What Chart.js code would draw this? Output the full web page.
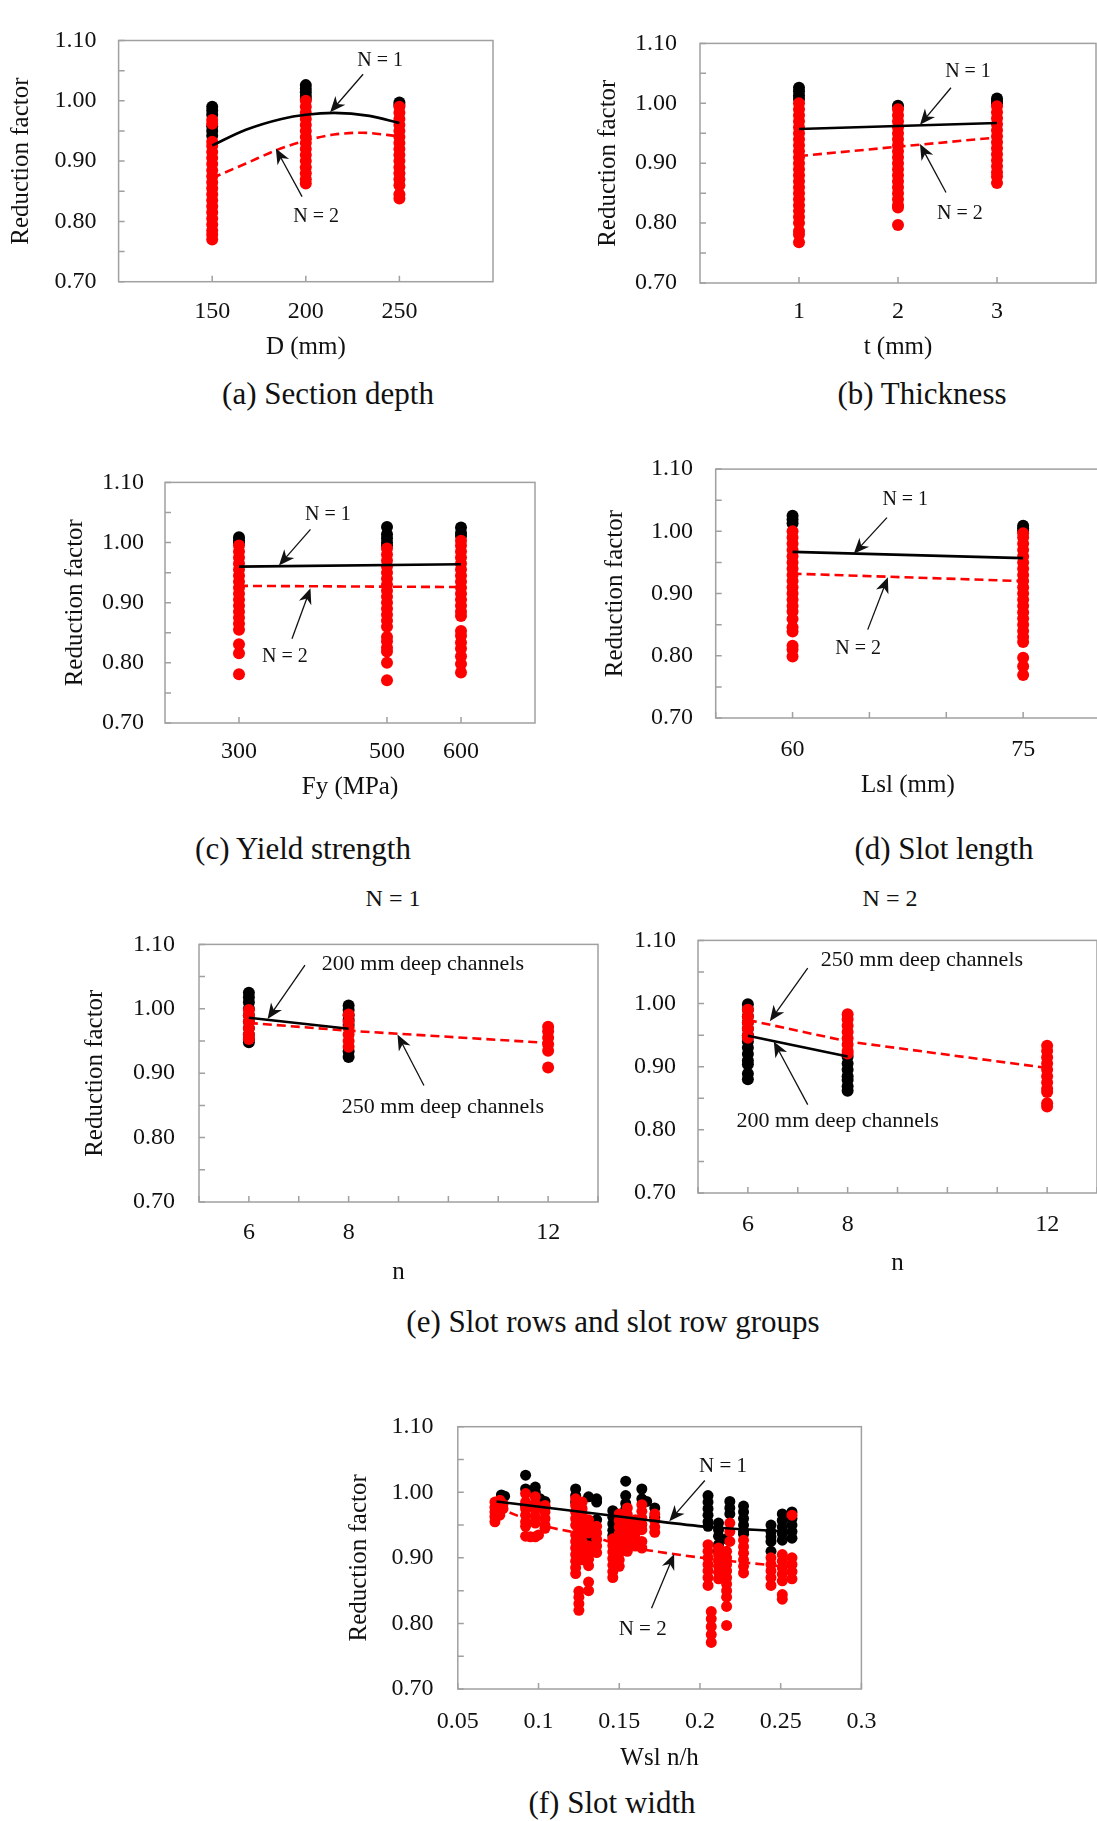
<!DOCTYPE html>
<html>
<head>
<meta charset="utf-8">
<script src="https://cdn.jsdelivr.net/npm/chart.js@4.4.1/dist/chart.umd.min.js"></script>
<style>
  html, body { margin: 0; padding: 0; background: #fff; overflow: hidden; width: 1097px; height: 1821px; }
  canvas { position: absolute; }
  .txt { position: absolute; transform: translate(-50%, -50%); font-family: "Liberation Serif", "Times New Roman", serif;
         color: #111; white-space: nowrap; line-height: 1; }
</style>
</head>
<body>
<div class="txt" style="left:328px;top:393px;font-size:31px">(a) Section depth</div>
<div class="txt" style="left:922px;top:393px;font-size:31px">(b) Thickness</div>
<div class="txt" style="left:303px;top:848px;font-size:31px">(c) Yield strength</div>
<div class="txt" style="left:944px;top:848px;font-size:31px">(d) Slot length</div>
<div class="txt" style="left:393px;top:898px;font-size:24px">N = 1</div>
<div class="txt" style="left:890px;top:898px;font-size:24px">N = 2</div>
<div class="txt" style="left:613px;top:1321px;font-size:31px">(e) Slot rows and slot row groups</div>
<div class="txt" style="left:612px;top:1802px;font-size:31px">(f) Slot width</div>
<script>
// (a) section depth
const aX = [150, 200, 250];
const aBlack = [
  [0.990, 0.984, 0.977, 0.958, 0.950, 0.942],
  [1.026, 1.020, 1.014, 1.008, 1.003],
  [0.997, 0.993]
];
const aRed = [
  [0.968, 0.962, 0.932, 0.925, 0.915, 0.905, 0.895, 0.885, 0.875, 0.865, 0.855, 0.845, 0.835, 0.825, 0.815, 0.805, 0.795, 0.785, 0.778, 0.770],
  [1.000, 0.990, 0.980, 0.970, 0.960, 0.950, 0.940, 0.930, 0.920, 0.910, 0.900, 0.890, 0.880, 0.870, 0.863],
  [0.990, 0.980, 0.970, 0.960, 0.950, 0.940, 0.930, 0.920, 0.910, 0.900, 0.890, 0.880, 0.870, 0.860, 0.845, 0.838]
];
const aN1X = [150, 168, 187, 200, 215, 234, 250];
const aN1Y = [0.926, 0.952, 0.970, 0.977, 0.980, 0.975, 0.963];
const aN2X = [150, 168, 185, 200, 215, 230, 250];
const aN2Y = [0.872, 0.896, 0.919, 0.934, 0.944, 0.947, 0.941];

// (b) thickness
const bX = [1, 2, 3];
const bBlack = [[1.026, 1.020, 1.013, 1.007], [0.996], [1.008, 1.004, 1.000]];
const bRed = [
  [1.000, 0.990, 0.980, 0.970, 0.960, 0.950, 0.940, 0.930, 0.920, 0.910, 0.900, 0.890, 0.880, 0.870, 0.860, 0.850, 0.840, 0.830, 0.820, 0.810, 0.800, 0.787, 0.781, 0.768],
  [0.990, 0.980, 0.970, 0.960, 0.950, 0.940, 0.930, 0.920, 0.910, 0.900, 0.890, 0.880, 0.870, 0.860, 0.850, 0.840, 0.830, 0.826, 0.797],
  [0.995, 0.985, 0.975, 0.965, 0.955, 0.945, 0.935, 0.925, 0.915, 0.905, 0.895, 0.885, 0.878, 0.867]
];
const bN1X = [1, 3], bN1Y = [0.957, 0.967];
const bN2X = [1, 3], bN2Y = [0.912, 0.943];

// (c) yield strength
const cX = [300, 500, 600];
const cBlack = [[1.009, 1.004, 1.000], [1.026, 1.014, 1.007, 1.000, 0.995], [1.025, 1.016, 1.011]];
const cRed = [
  [0.995, 0.985, 0.975, 0.965, 0.955, 0.945, 0.935, 0.925, 0.915, 0.905, 0.895, 0.885, 0.875, 0.865, 0.855, 0.831, 0.816, 0.781],
  [0.990, 0.980, 0.970, 0.960, 0.950, 0.940, 0.930, 0.920, 0.910, 0.900, 0.890, 0.880, 0.870, 0.860, 0.843, 0.836, 0.825, 0.819, 0.800, 0.771],
  [1.003, 0.995, 0.985, 0.975, 0.965, 0.955, 0.945, 0.935, 0.925, 0.915, 0.905, 0.895, 0.885, 0.878, 0.853, 0.845, 0.834, 0.824, 0.811, 0.798, 0.784]
];
const cN1X = [300, 600], cN1Y = [0.960, 0.964];
const cN2X = [300, 600], cN2Y = [0.928, 0.926];

// (d) slot length
const dX = [60, 75];
const dBlack = [[1.025, 1.019, 1.013], [1.009, 1.005, 1.001]];
const dRed = [
  [1.000, 0.990, 0.980, 0.970, 0.960, 0.950, 0.940, 0.930, 0.920, 0.910, 0.900, 0.890, 0.880, 0.871, 0.859, 0.846, 0.839, 0.816, 0.810, 0.799],
  [0.997, 0.990, 0.980, 0.970, 0.960, 0.950, 0.940, 0.930, 0.920, 0.910, 0.900, 0.890, 0.880, 0.870, 0.860, 0.850, 0.840, 0.830, 0.822, 0.797, 0.783, 0.769]
];
const dN1X = [60, 75], dN1Y = [0.967, 0.957];
const dN2X = [60, 75], dN2Y = [0.932, 0.920];

// (e) slot rows, N = 1 and N = 2 (black = 200 mm, red = 250 mm deep)
const eX = [6, 8, 12];
const e1Black = [[1.025, 1.018, 1.010, 1.000, 0.990, 0.980, 0.970, 0.960, 0.953, 0.948], [1.005, 0.998, 0.990, 0.983, 0.975, 0.934, 0.925], []];
const e1Red = [[0.998, 0.990, 0.980, 0.970, 0.960, 0.953], [0.991, 0.980, 0.970, 0.960, 0.950, 0.941], [0.972, 0.965, 0.955, 0.945, 0.935, 0.909]];
const e1D200X = [6, 8], e1D200Y = [0.986, 0.969];
const e1D250X = [6, 8, 12], e1D250Y = [0.978, 0.966, 0.947];

const e2Black = [[0.999, 0.990, 0.980, 0.970, 0.960, 0.950, 0.940, 0.930, 0.920, 0.910, 0.904, 0.889, 0.880], [0.916, 0.905, 0.895, 0.885, 0.879, 0.869, 0.862], []];
const e2Red = [[0.990, 0.980, 0.970, 0.960, 0.950, 0.946], [0.983, 0.975, 0.965, 0.955, 0.945, 0.935, 0.925, 0.921], [0.933, 0.925, 0.915, 0.905, 0.895, 0.885, 0.875, 0.865, 0.860, 0.842, 0.837]];
const e2D200X = [6, 8], e2D200Y = [0.949, 0.916];
const e2D250X = [6, 8, 12], e2D250Y = [0.974, 0.940, 0.898];

// (f) slot width
const fBlackX = [0.077, 0.079, 0.092, 0.098, 0.101, 0.104, 0.123, 0.131, 0.136, 0.146, 0.154, 0.164, 0.167, 0.172,
                 0.205, 0.2115, 0.2165, 0.2185, 0.227, 0.244, 0.251, 0.257];
const fBlack = [
  [0.996, 0.991], [0.994],
  [1.026, 1.005, 0.980], [1.008, 1.000], [0.990], [0.986, 0.977],
  [1.005, 0.995, 0.985], [0.993, 0.930], [0.990, 0.985, 0.958],
  [0.972, 0.962, 0.952, 0.942, 0.934], [1.017, 0.995, 0.983, 0.974], [1.005, 0.990], [0.986], [0.976, 0.962],
  [0.995, 0.985, 0.975, 0.965, 0.955, 0.948], [0.953, 0.943, 0.933, 0.920, 0.910], [0.929], [0.986, 0.976, 0.967],
  [0.979, 0.970, 0.960, 0.950, 0.940, 0.936],
  [0.950, 0.940, 0.932, 0.925, 0.910], [0.967, 0.957, 0.947, 0.937, 0.927], [0.970, 0.960, 0.950, 0.940, 0.930]
];
const fRedX = [0.073, 0.076, 0.078, 0.092, 0.095, 0.098, 0.100, 0.104, 0.123, 0.125, 0.127, 0.131, 0.136,
               0.146, 0.150, 0.155, 0.160, 0.164, 0.172, 0.205, 0.207, 0.2115, 0.2165, 0.2185, 0.227, 0.244, 0.251, 0.257];
const fRed = [
  [0.985, 0.977, 0.970, 0.963, 0.955], [0.988, 0.980, 0.972, 0.965], [0.982, 0.975],
  [0.998, 0.985, 0.975, 0.965, 0.955, 0.948, 0.933], [0.932], [0.993, 0.983, 0.973, 0.963, 0.953, 0.932], [0.935],
  [0.980, 0.970, 0.960, 0.950, 0.945],
  [0.990, 0.980, 0.970, 0.960, 0.950, 0.935, 0.925, 0.915, 0.905, 0.895, 0.885, 0.876], [0.849, 0.840, 0.830, 0.820],
  [0.985, 0.975, 0.965, 0.955, 0.945, 0.935, 0.925, 0.915, 0.905, 0.897], [0.958, 0.948, 0.938, 0.918, 0.908, 0.898, 0.888, 0.863, 0.850],
  [0.948, 0.938, 0.928, 0.918, 0.908],
  [0.929, 0.919, 0.909, 0.899, 0.889, 0.879, 0.870], [0.967, 0.957, 0.947, 0.937, 0.927, 0.917, 0.907, 0.897, 0.887],
  [0.976, 0.966, 0.956, 0.946, 0.936, 0.926, 0.916, 0.910], [0.958, 0.948, 0.938, 0.928, 0.918],
  [0.981, 0.971, 0.961, 0.951, 0.943, 0.925, 0.915], [0.967, 0.957, 0.947, 0.939],
  [0.920, 0.910, 0.900, 0.890, 0.880, 0.870, 0.858], [0.818, 0.807, 0.795, 0.783, 0.771],
  [0.915, 0.905, 0.895, 0.887, 0.878, 0.868], [0.910, 0.900, 0.890, 0.880, 0.870, 0.860, 0.850, 0.840, 0.826, 0.797],
  [0.953, 0.940, 0.925], [0.927, 0.917, 0.907, 0.897, 0.887, 0.877],
  [0.900, 0.890, 0.880, 0.870, 0.858], [0.905, 0.895, 0.885, 0.875, 0.865, 0.844, 0.837], [0.965, 0.900, 0.890, 0.879, 0.868]
];
const fN1X = [0.074, 0.160, 0.205, 0.255], fN1Y = [0.986, 0.960, 0.947, 0.940];
const fN2X = [0.074, 0.105, 0.130, 0.155, 0.205, 0.255], fN2Y = [0.977, 0.948, 0.935, 0.917, 0.899, 0.886];

const SERIF = '"Liberation Serif", "Times New Roman", serif';
const RED = '#ff0000';
const INK = '#111';

function cols(xs, ys) {
  const pts = [];
  ys.forEach((col, i) => col.forEach(v => pts.push({ x: xs[i], y: v })));
  return pts;
}
function line(xs, ys) { return xs.map((x, i) => ({ x: x, y: ys[i] })); }

function arrow(ctx, x0, y0, x1, y1) {
  const ang = Math.atan2(y1 - y0, x1 - x0);
  const L = 17, W = 0.4;
  ctx.beginPath();
  ctx.moveTo(x0, y0);
  ctx.lineTo(x1 - Math.cos(ang) * 10, y1 - Math.sin(ang) * 10);
  ctx.stroke();
  ctx.beginPath();
  ctx.moveTo(x1, y1);
  ctx.lineTo(x1 - L * Math.cos(ang - W), y1 - L * Math.sin(ang - W));
  ctx.lineTo(x1 - 11 * Math.cos(ang), y1 - 11 * Math.sin(ang));
  ctx.lineTo(x1 - L * Math.cos(ang + W), y1 - L * Math.sin(ang + W));
  ctx.closePath();
  ctx.fill();
}

const boxPlugin = {
  id: 'box',
  beforeDatasetsDraw(chart) {
    const { ctx, chartArea: a, scales: { x, y } } = chart;
    ctx.save();
    ctx.strokeStyle = '#a0a0a0';
    ctx.lineWidth = 1.5;
    ctx.beginPath();
    y.ticks.forEach(t => {
      const p = y.getPixelForValue(t.value);
      ctx.moveTo(a.left, p); ctx.lineTo(a.left + 6, p);
    });
    x.ticks.forEach(t => {
      const p = x.getPixelForValue(t.value);
      ctx.moveTo(p, a.bottom); ctx.lineTo(p, a.bottom - 6);
    });
    ctx.stroke();
    ctx.strokeRect(a.left, a.top, a.width, a.height);
    ctx.restore();
  },
  afterDatasetsDraw(chart, args, opts) {
    const { ctx, scales: { x, y } } = chart;
    ctx.save();
    ctx.fillStyle = INK;
    ctx.strokeStyle = INK;
    ctx.lineWidth = 1.3;
    ctx.font = opts.size + 'px ' + SERIF;
    ctx.textAlign = 'center';
    ctx.textBaseline = 'middle';
    (opts.items || []).forEach(n => {
      ctx.fillText(n.text, x.getPixelForValue(n.at[0]), y.getPixelForValue(n.at[1]));
      arrow(ctx, x.getPixelForValue(n.from[0]), y.getPixelForValue(n.from[1]),
                 x.getPixelForValue(n.to[0]), y.getPixelForValue(n.to[1]));
    });
    ctx.restore();
  }
};

function panel(o) {
  const tickSize = o.tickSize || 24, titleSize = 25;
  const tlh = tickSize * 1.2, ylh = titleSize * 1.2;
  const [L, T, R, B] = o.plot;
  const padT = 18, padR = o.padR || 22;
  const left = Math.round(o.yTitX != null ? o.yTitX - ylh / 2 : o.yLabR - 70);
  const top = Math.round(T - padT);
  const bottom = Math.round(o.xTitY + ylh / 2);
  const right = Math.round(R + padR);
  const cv = document.createElement('canvas');
  cv.width = right - left;
  cv.height = bottom - top;
  cv.style.left = left + 'px';
  cv.style.top = top + 'px';
  document.body.appendChild(cv);
  const yW = L - left, xH = bottom - B;
  const r = o.radius || 6;
  const curve = o.smooth ? { cubicInterpolationMode: 'monotone' } : {};

  new Chart(cv, {
    type: 'scatter',
    data: {
      datasets: [
        Object.assign({ data: line(o.n1[0], o.n1[1]), showLine: true, borderColor: '#000', borderWidth: 2.6,
          pointRadius: 0, tension: o.tension || 0, order: 0 }, curve),
        Object.assign({ data: line(o.n2[0], o.n2[1]), showLine: true, borderColor: RED, borderWidth: 2.6, borderDash: [9, 5],
          pointRadius: 0, tension: o.tension || 0, order: 0 }, curve),
        { data: o.red, backgroundColor: RED, borderWidth: 0, pointRadius: r, order: 1 },
        { data: o.black, backgroundColor: '#000', borderWidth: 0, pointRadius: r, order: 2 }
      ]
    },
    options: {
      responsive: false,
      animation: false,
      events: [],
      layout: { padding: { top: padT, right: padR, left: 0, bottom: 0 } },
      plugins: {
        legend: { display: false },
        tooltip: { enabled: false },
        box: { items: o.notes, size: o.noteSize || 20 }
      },
      scales: {
        x: {
          type: 'linear', min: o.xMin, max: o.xMax,
          afterBuildTicks: o.xTicks ? (s => { s.ticks = o.xTicks.map(v => ({ value: v })); }) : undefined,
          afterFit: s => { s.height = xH; },
          grid: { display: false, drawTicks: false },
          border: { display: false },
          ticks: {
            stepSize: o.xStep, autoSkip: false, maxRotation: 0, color: INK,
            padding: o.xLabY - B - tlh / 2,
            font: { family: SERIF, size: tickSize },
            callback: v => (o.xLabels && !o.xLabels.includes(v)) ? '' : String(Math.round(v * 100) / 100)
          },
          title: { display: true, text: o.xTitle, color: INK, padding: 0, font: { family: SERIF, size: titleSize } }
        },
        y: {
          min: 0.7, max: 1.1,
          afterFit: s => { s.width = yW; },
          grid: { display: false, drawTicks: false },
          border: { display: false },
          ticks: {
            stepSize: 0.05, autoSkip: false, color: INK,
            padding: L - o.yLabR,
            font: { family: SERIF, size: tickSize },
            callback: v => (Math.round(v * 100) % 10 === 0) ? v.toFixed(2) : ''
          },
          title: { display: o.yTitX != null, text: 'Reduction factor', color: INK, padding: 0,
                   font: { family: SERIF, size: titleSize } }
        }
      }
    },
    plugins: [boxPlugin]
  });
}

panel({
  plot: [118.6, 21.7, 492.9, 281.7], yLabR: 96.5, yTitX: 21, xLabY: 312, xTitY: 347,
  xMin: 100, xMax: 300, xTicks: [150, 200, 250], xTitle: 'D (mm)', smooth: true,
  red: cols(aX, aRed), black: cols(aX, aBlack), n1: [aN1X, aN1Y], n2: [aN2X, aN2Y],
  notes: [
    { text: 'N = 1', at: [239.7, 1.067], from: [230.6, 1.044], to: [213, 0.981] },
    { text: 'N = 2', at: [205.5, 0.807], from: [198, 0.841], to: [184, 0.921] }
  ]
});

panel({
  plot: [700, 24, 1096, 283], yLabR: 677, yTitX: 607.6, xLabY: 312, xTitY: 347,
  xMin: 0, xMax: 4, xTicks: [1, 2, 3], xTitle: 't (mm)',
  red: cols(bX, bRed), black: cols(bX, bBlack), n1: [bN1X, bN1Y], n2: [bN2X, bN2Y],
  notes: [
    { text: 'N = 1', at: [2.707, 1.052], from: [2.535, 1.026], to: [2.222, 0.964] },
    { text: 'N = 2', at: [2.626, 0.816], from: [2.485, 0.851], to: [2.222, 0.932] }
  ]
});

panel({
  plot: [165, 465, 535, 723], yLabR: 144, yTitX: 75.4, xLabY: 752, xTitY: 787,
  xMin: 200, xMax: 700, xTicks: [300, 500, 600], xTitle: 'Fy (MPa)',
  red: cols(cX, cRed), black: cols(cX, cBlack), n1: [cN1X, cN1Y], n2: [cN2X, cN2Y],
  notes: [
    { text: 'N = 1', at: [420, 1.046], from: [396.6, 1.022], to: [354, 0.962] },
    { text: 'N = 2', at: [362, 0.810], from: [371.6, 0.840], to: [396.6, 0.924] }
  ]
});

panel({
  plot: [715.7, 450, 1099.5, 718], yLabR: 693, yTitX: 614.5, xLabY: 750, xTitY: 785,
  xMin: 55, xMax: 80, xStep: 5, xLabels: [60, 75], xTitle: 'Lsl (mm)',
  red: cols(dX, dRed), black: cols(dX, dBlack), n1: [dN1X, dN1Y], n2: [dN2X, dN2Y],
  notes: [
    { text: 'N = 1', at: [67.33, 1.051], from: [66.14, 1.022], to: [63.98, 0.964] },
    { text: 'N = 2', at: [64.27, 0.812], from: [64.89, 0.842], to: [66.2, 0.926] }
  ]
});

panel({
  plot: [199, 924, 598, 1202], yLabR: 175, yTitX: 95, xLabY: 1233, xTitY: 1272,
  xMin: 5, xMax: 13, xStep: 1, xLabels: [6, 8, 12], xTitle: 'n', noteSize: 22,
  red: cols(eX, e1Red), black: cols(eX, e1Black), n1: [e1D200X, e1D200Y], n2: [e1D250X, e1D250Y],
  notes: [
    { text: '200 mm deep channels', at: [9.49, 1.070], from: [7.125, 1.068], to: [6.375, 0.984] },
    { text: '250 mm deep channels', at: [9.89, 0.847], from: [9.51, 0.881], to: [8.98, 0.960] }
  ]
});

panel({
  plot: [698, 922, 1097.3, 1193], yLabR: 676, yTitX: null, xLabY: 1225, xTitY: 1263,
  xMin: 5, xMax: 13, xStep: 1, xLabels: [6, 8, 12], xTitle: 'n', noteSize: 22,
  red: cols(eX, e2Red), black: cols(eX, e2Black), n1: [e2D200X, e2D200Y], n2: [e2D250X, e2D250Y],
  notes: [
    { text: '250 mm deep channels', at: [9.49, 1.069], from: [7.2, 1.056], to: [6.44, 0.972] },
    { text: '200 mm deep channels', at: [7.8, 0.814], from: [7.2, 0.840], to: [6.52, 0.940] }
  ]
});

panel({
  plot: [457.8, 1406, 864.5, 1689], yLabR: 433.5, yTitX: 358.6, xLabY: 1722, xTitY: 1758,
  xMin: 0.05, xMax: 0.3, xStep: 0.05, xTitle: 'Wsl n/h', radius: 5.5, noteSize: 21, tension: 0.3, padR: 30,
  red: cols(fRedX, fRed), black: cols(fBlackX, fBlack), n1: [fN1X, fN1Y], n2: [fN2X, fN2Y],
  notes: [
    { text: 'N = 1', at: [0.2143, 1.039], from: [0.203, 1.018], to: [0.181, 0.956] },
    { text: 'N = 2', at: [0.1645, 0.790], from: [0.170, 0.823], to: [0.184, 0.906] }
  ]
});
</script>
</body>
</html>
